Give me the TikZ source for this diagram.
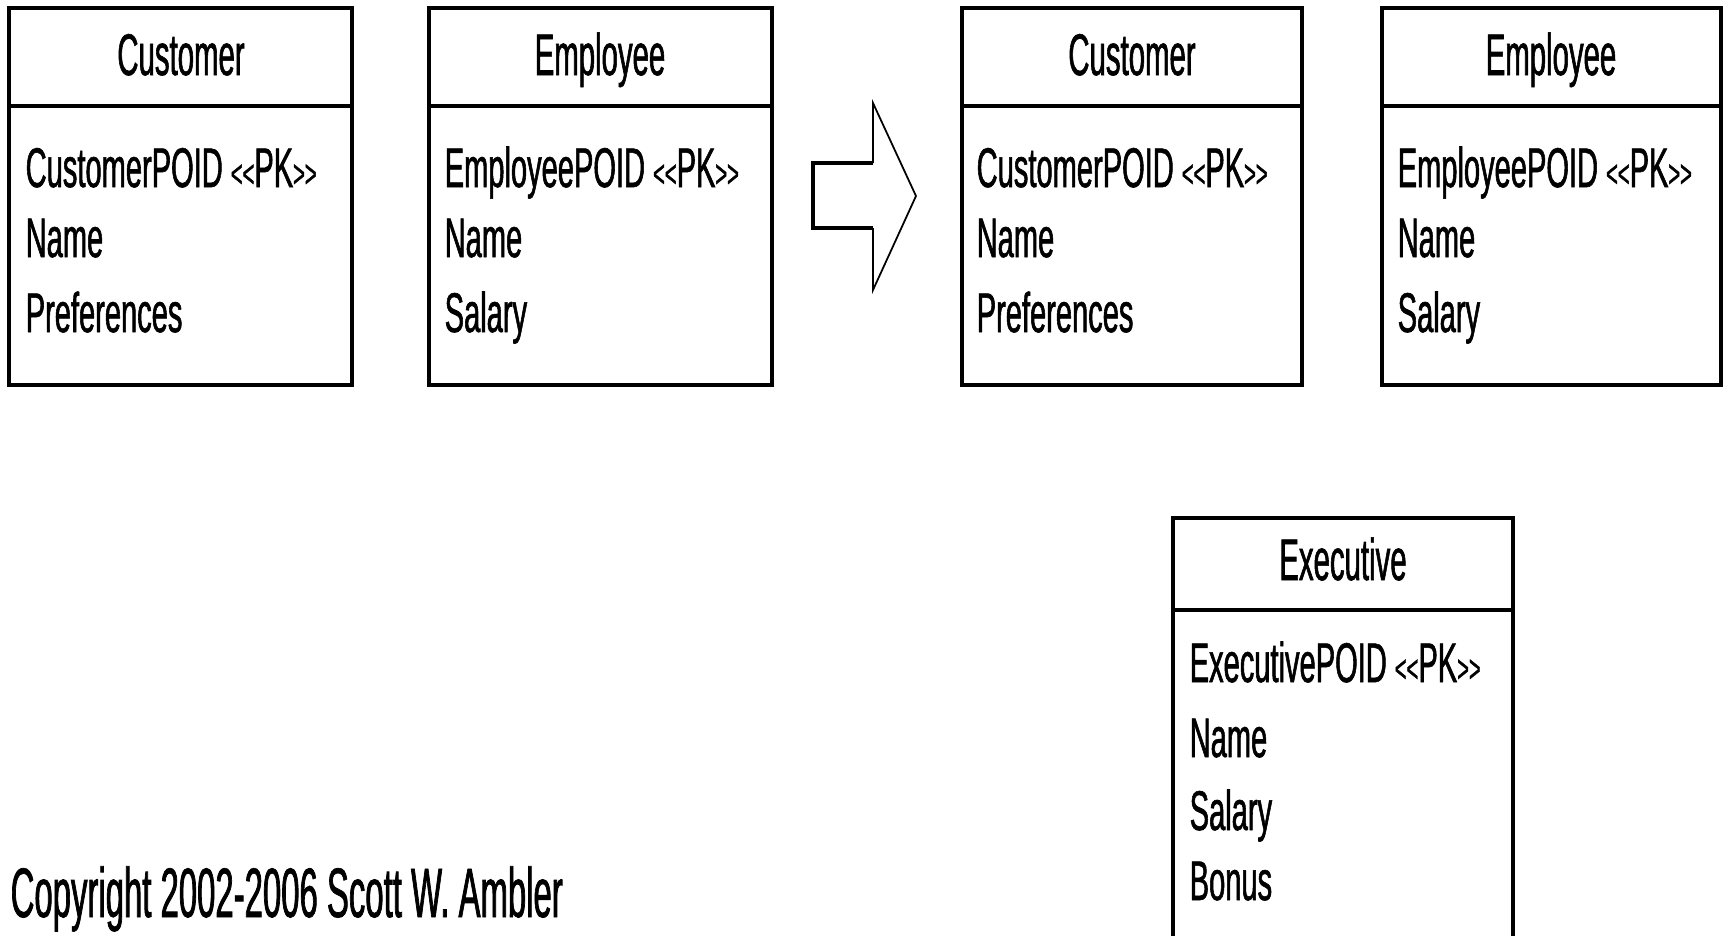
\documentclass[tikz,border=0pt]{standalone}
\usepackage{fontspec}
\setmainfont{Liberation Sans}[FakeStretch=0.5,FakeBold=1,Ligatures=TeXOff]
\newfontfamily\attrfont{Liberation Sans}[FakeStretch=0.52,FakeBold=1,Ligatures=TeXOff]
\newfontfamily\copyfont{Liberation Sans}[FakeStretch=0.47,FakeBold=1,Ligatures=TeXOff]
% small stereotype chevrons
\newcommand\stereo[1]{{\fontsize{11}{11}\selectfont<<}#1{\fontsize{11}{11}\selectfont>>}}
\begin{document}
\begin{tikzpicture}[x=0.01cm,y=-0.01cm,
  classbox/.style={draw=black,line width=1.1pt},
  classtitle/.style={inner sep=0pt,anchor=base,font=\fontsize{16.7}{18}\selectfont},
  attr/.style={inner sep=0pt,anchor=base west,font=\attrfont\fontsize{15.9}{17}\selectfont},
  shaftline/.style={line width=1.1pt},
  headline/.style={line width=0.5pt}]
\useasboundingbox (0,0) rectangle (1723,936);
\clip (0,0) rectangle (1723,936);

% --- left: Customer
\draw[classbox] (9,8) rectangle (352,385);
\draw[classbox] (9,106) -- (352,106);
\node[classtitle] (c1t) at (181,75) {Customer};
\node[attr] (c1a) at (25,187) {CustomerPOID \stereo{PK}};
\node[attr] (c1b) at (25,257) {Name};
\node[attr] (c1c) at (25,332) {Preferences};

% --- left: Employee
\draw[classbox] (429,8) rectangle (772,385);
\draw[classbox] (429,106) -- (772,106);
\node[classtitle] (e1t) at (600,75) {Employee};
\node[attr] (e1a) at (444,187) {EmployeePOID \stereo{PK}};
\node[attr] (e1b) at (444,257) {Name};
\node[attr] (e1c) at (444,332) {Salary};

% --- transformation arrow
\draw[shaftline] (873,163) -- (813,163) -- (813,228) -- (873,228);
\draw[headline] (873,163) -- (873,103) -- (916,196) -- (873,290) -- (873,228);

% --- right: Customer
\draw[classbox] (962,8) rectangle (1302,385);
\draw[classbox] (962,106) -- (1302,106);
\node[classtitle] (c2t) at (1132,75) {Customer};
\node[attr] (c2a) at (976,187) {CustomerPOID \stereo{PK}};
\node[attr] (c2b) at (976,257) {Name};
\node[attr] (c2c) at (976,332) {Preferences};

% --- right: Employee
\draw[classbox] (1382,8) rectangle (1721,385);
\draw[classbox] (1382,106) -- (1721,106);
\node[classtitle] (e2t) at (1551,75) {Employee};
\node[attr] (e2a) at (1397,187) {EmployeePOID \stereo{PK}};
\node[attr] (e2b) at (1397,257) {Name};
\node[attr] (e2c) at (1397,332) {Salary};

% --- right: Executive (runs past the lower edge)
\draw[classbox] (1173,960) -- (1173,518) -- (1513,518) -- (1513,960);
\draw[classbox] (1173,610) -- (1513,610);
\node[classtitle] (x2t) at (1343,580) {Executive};
\node[attr] (x2a) at (1189,682) {ExecutivePOID \stereo{PK}};
\node[attr] (x2b) at (1189,757) {Name};
\node[attr] (x2c) at (1189,830) {Salary};
\node[attr] (x2d) at (1189,900) {Bonus};

% --- copyright line
\node[inner sep=0pt,anchor=base west,font=\copyfont\fontsize{19.9}{22}\selectfont] (copy) at (10,917) {Copyright 2002-2006 Scott W. Ambler};
\end{tikzpicture}
\end{document}
